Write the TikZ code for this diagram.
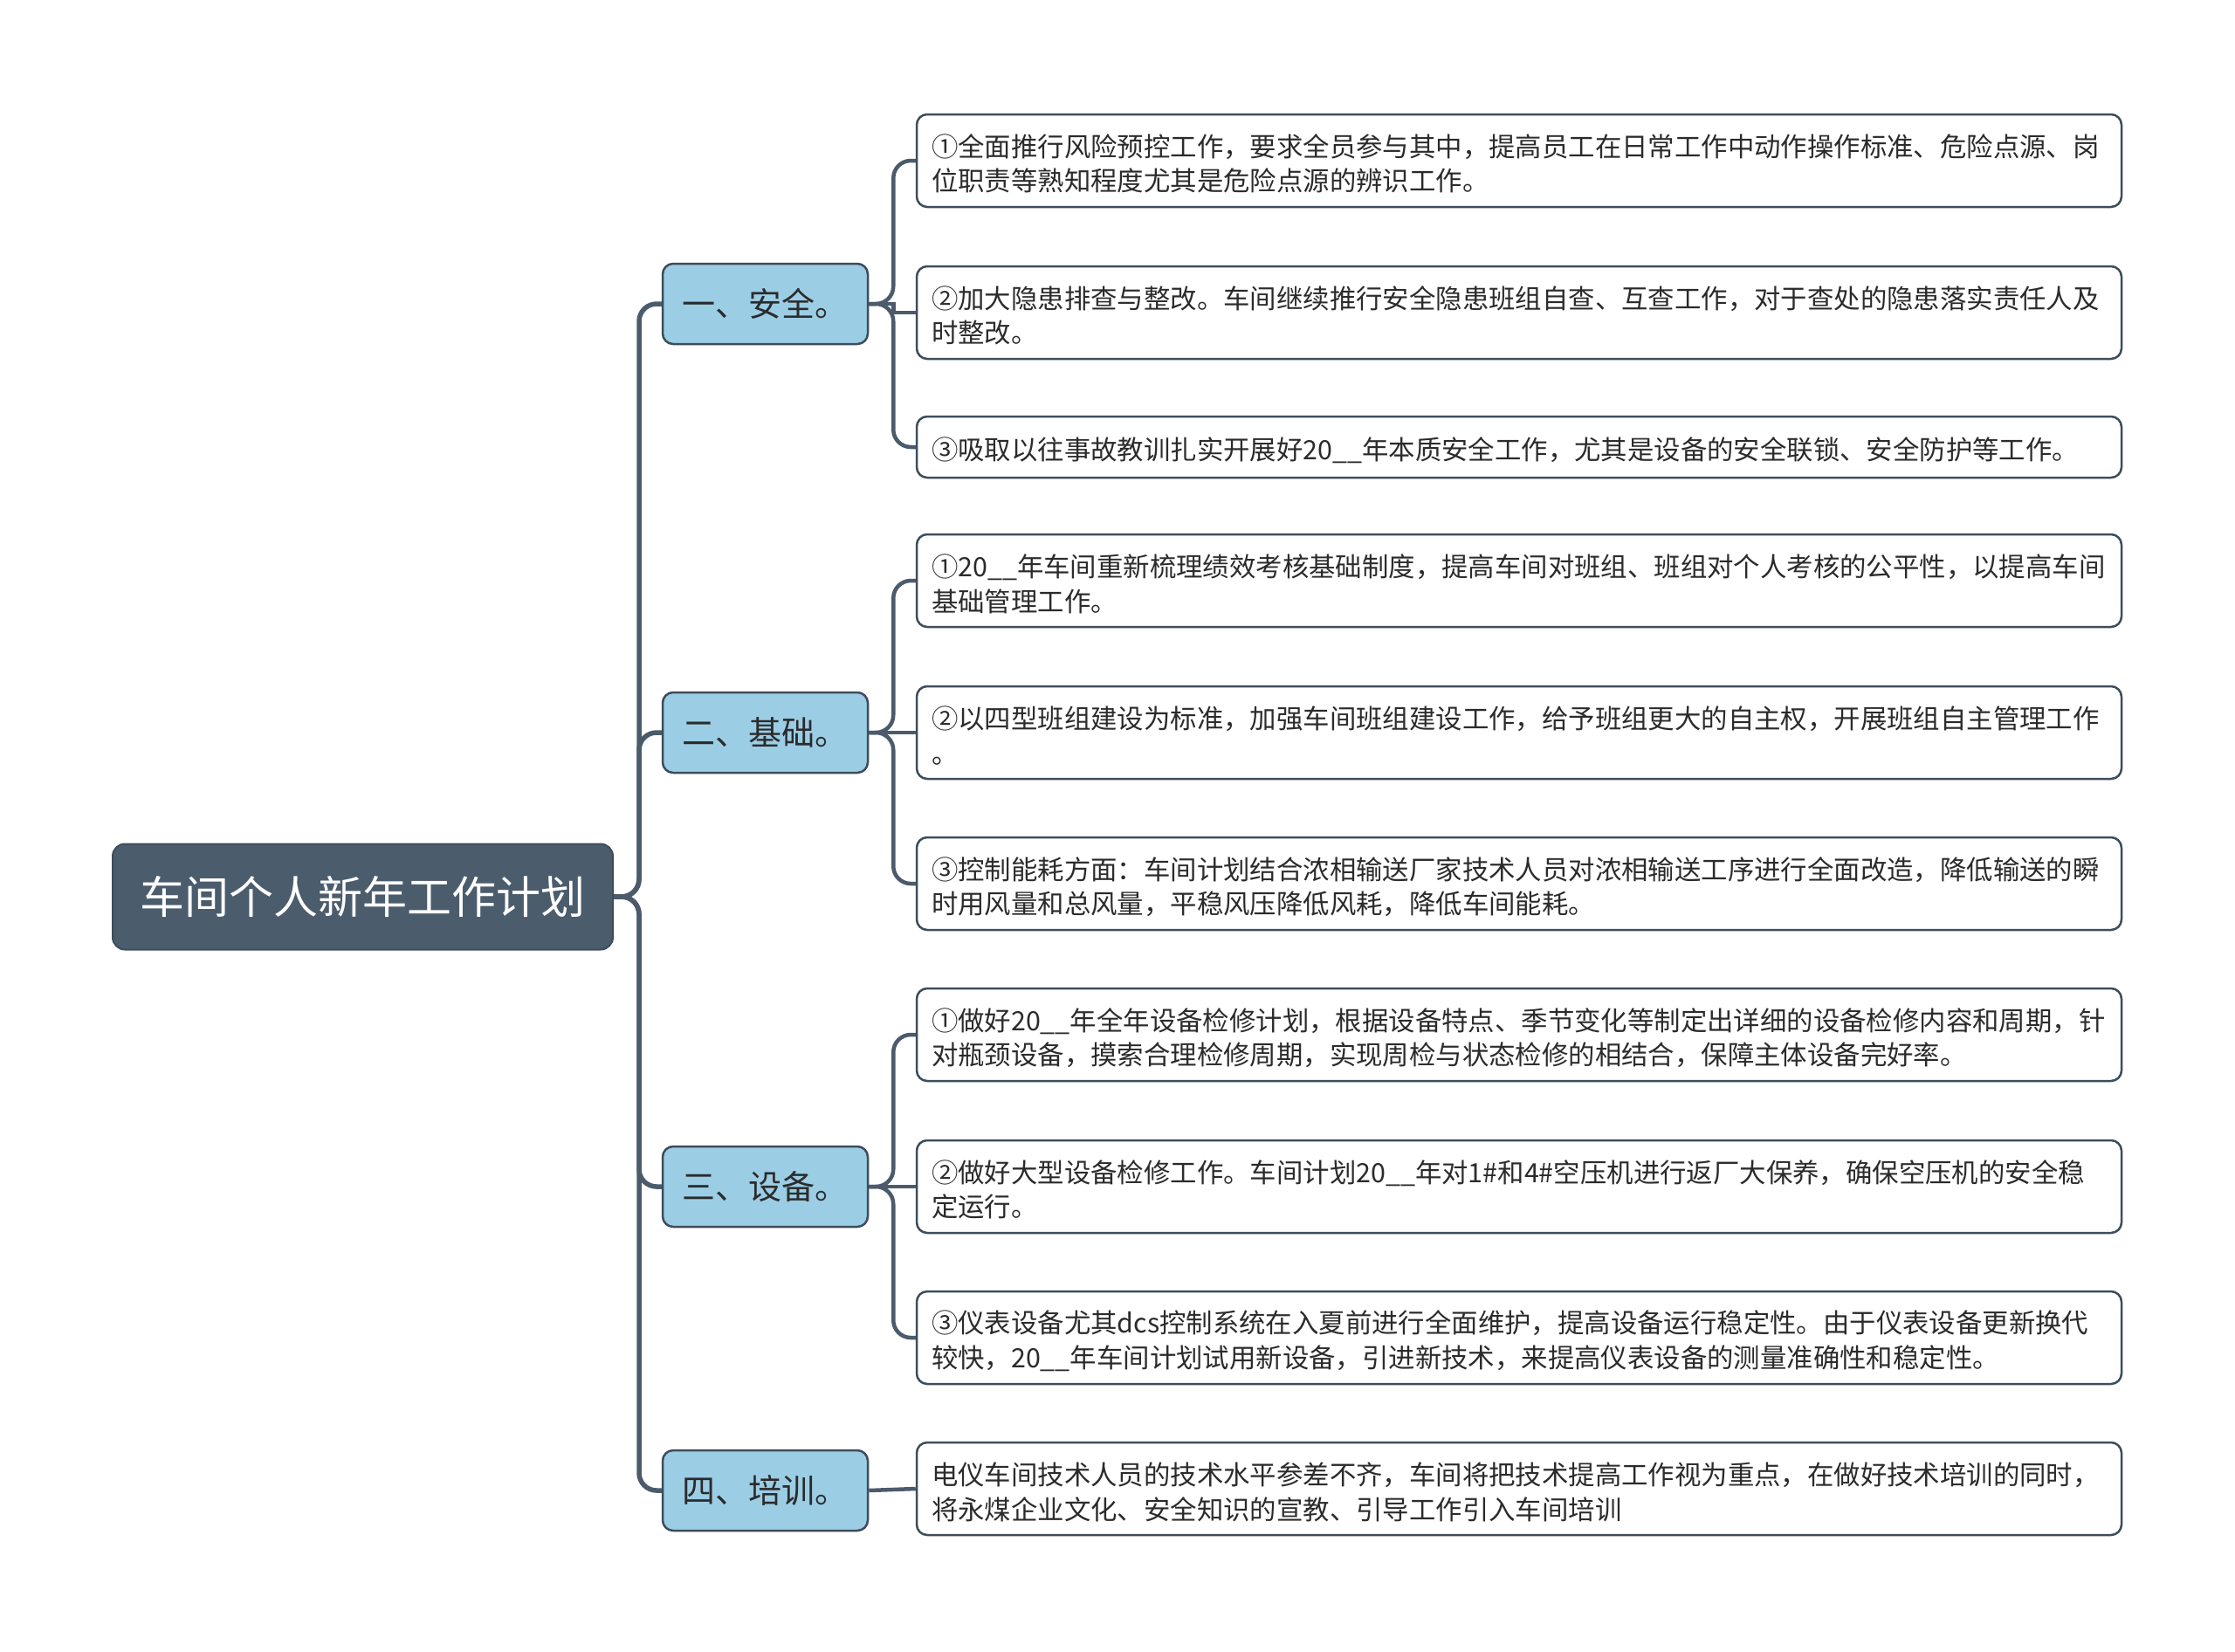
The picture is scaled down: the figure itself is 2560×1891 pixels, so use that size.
\documentclass[tikz,border=0pt]{standalone}
\usepackage{fontspec}
\newfontfamily\cjk{Noto Sans CJK SC}
\definecolor{rootc}{HTML}{4B5C6D}
\definecolor{edgec}{HTML}{3E4D5B}
\definecolor{linec}{HTML}{4B5B6B}
\definecolor{topicc}{HTML}{9BCDE5}
\definecolor{txt}{HTML}{2B2B2B}
\newcommand{\leafstrut}{\rule{0pt}{33pt}}
\tikzset{
  rootbox/.style={rounded corners=14pt, fill=rootc, draw=edgec, line width=2pt,
    minimum width=573pt, minimum height=121pt, inner sep=0pt, text=white,
    font=\cjk\fontsize{51}{60}\selectfont},
  topicbox/.style={rounded corners=12pt, fill=topicc, draw=edgec, line width=2.5pt,
    minimum width=235pt, minimum height=92pt, inner sep=0pt, text=txt,
    font=\cjk\fontsize{38}{46}\selectfont},
  leafbox/.style={rounded corners=12pt, fill=white, draw=edgec, line width=2.5pt,
    text width=1346pt, inner xsep=17pt, inner ysep=0pt, align=left, text=txt,
    minimum height=106pt, font=\cjk\fontsize{30.4}{39.5}\selectfont},
  trunk/.style={draw=linec, line width=5.5pt, rounded corners=20pt},
  twig/.style={draw=linec, line width=4.5pt, rounded corners=20pt},
}
\begin{document}
\begin{tikzpicture}[x=1pt,y=-1pt]
\useasboundingbox (0,0) rectangle (2560,1891);

\node[rootbox] (root) at (415.5,1027) {车间个人新年工作计划};

\node[topicbox] (t1) at (876.5,348) {一、安全。};
\node[topicbox] (t2) at (876.5,839) {二、基础。};
\node[topicbox] (t3) at (876.5,1359) {三、设备。};
\node[topicbox] (t4) at (876.5,1707) {四、培训。};

\node[leafbox] (l1a) at (1740,184) {{\leafstrut}①全面推行风险预控工作，要求全员参与其中，提高员工在日常工作中动作操作标准、危险点源、岗\\位职责等熟知程度尤其是危险点源的辨识工作。};
\node[leafbox] (l1b) at (1740,358) {{\leafstrut}②加大隐患排查与整改。车间继续推行安全隐患班组自查、互查工作，对于查处的隐患落实责任人及\\时整改。};
\node[leafbox, minimum height=70pt] (l1c) at (1740,512) {{\leafstrut}③吸取以往事故教训扎实开展好20\_\_年本质安全工作，尤其是设备的安全联锁、安全防护等工作。};

\node[leafbox] (l2a) at (1740,665) {{\leafstrut}①20\_\_年车间重新梳理绩效考核基础制度，提高车间对班组、班组对个人考核的公平性，以提高车间\\基础管理工作。};
\node[leafbox] (l2b) at (1740,839) {{\leafstrut}②以四型班组建设为标准，加强车间班组建设工作，给予班组更大的自主权，开展班组自主管理工作\\。};
\node[leafbox] (l2c) at (1740,1012) {{\leafstrut}③控制能耗方面：车间计划结合浓相输送厂家技术人员对浓相输送工序进行全面改造，降低输送的瞬\\时用风量和总风量，平稳风压降低风耗，降低车间能耗。};

\node[leafbox] (l3a) at (1740,1185) {{\leafstrut}①做好20\_\_年全年设备检修计划，根据设备特点、季节变化等制定出详细的设备检修内容和周期，针\\对瓶颈设备，摸索合理检修周期，实现周检与状态检修的相结合，保障主体设备完好率。};
\node[leafbox] (l3b) at (1740,1359) {{\leafstrut}②做好大型设备检修工作。车间计划20\_\_年对1\#和4\#空压机进行返厂大保养，确保空压机的安全稳\\定运行。};
\node[leafbox] (l3c) at (1740,1532) {{\leafstrut}③仪表设备尤其dcs控制系统在入夏前进行全面维护，提高设备运行稳定性。由于仪表设备更新换代\\较快，20\_\_年车间计划试用新设备，引进新技术，来提高仪表设备的测量准确性和稳定性。};

\node[leafbox] (l4) at (1740,1705) {{\leafstrut}电仪车间技术人员的技术水平参差不齐，车间将把技术提高工作视为重点，在做好技术培训的同时，\\将永煤企业文化、安全知识的宣教、引导工作引入车间培训};

% trunk
\foreach \t in {t1,t2,t3,t4}
  \draw[trunk] (root.east) -- ++(29,0) |- (\t.west);
% branch 1
\draw[twig] (t1.east) -- ++(28,0) |- (l1a.west);
\draw[twig, rounded corners=0pt] (t1.east) -- ++(28,0) |- (l1b.west);
\draw[twig] (t1.east) -- ++(28,0) |- (l1c.west);
% branch 2
\draw[twig] (t2.east) -- ++(28,0) |- (l2a.west);
\draw[twig] (t2.east) -- (l2b.west);
\draw[twig] (t2.east) -- ++(28,0) |- (l2c.west);
% branch 3
\draw[twig] (t3.east) -- ++(28,0) |- (l3a.west);
\draw[twig] (t3.east) -- (l3b.west);
\draw[twig] (t3.east) -- ++(28,0) |- (l3c.west);
% branch 4
\draw[twig] (t4.east) -- (l4.west);
\end{tikzpicture}
\end{document}
